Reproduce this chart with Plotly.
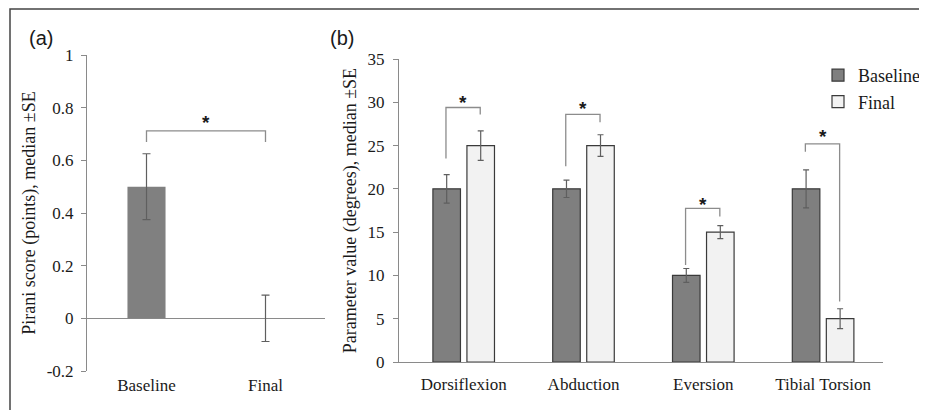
import plotly.graph_objects as go

# ---------------- data ----------------
pirani_categories = ["Baseline", "Final"]
pirani_median = [0.5, 0.0]
pirani_se = [0.125, 0.088]
pirani_bracket = [0.67, 0.712, 0.67]   # left bottom, top, right bottom
pirani_star_y = 0.76

y1_ticks = [-0.2, 0, 0.2, 0.4, 0.6, 0.8, 1]
y1_ticktext = ["-0.2", "0", "0.2", "0.4", "0.6", "0.8", "1"]

params = ["Dorsiflexion", "Abduction", "Eversion", "Tibial Torsion"]
baseline_median = [20, 20, 10, 20]
baseline_se = [1.65, 1.0, 0.8, 2.2]
final_median = [25, 25, 15, 5]
final_se = [1.7, 1.25, 0.75, 1.15]

bracket_left_bottom = [23.5, 22.6, 11.2, 24.3]
bracket_top = [29.4, 28.6, 17.75, 25.2]
bracket_right_bottom = [28.6, 27.7, 16.8, 7.0]
star_y = [30.45, 29.7, 18.7, 26.5]

y2_ticks = [0, 5, 10, 15, 20, 25, 30, 35]

# ---------------- styles ----------------
# the page body keeps its default 8px margin, so the figure is drawn 8px in
OFF = 8
W, H = 927 - OFF, 410 - OFF
SERIF = "Liberation Serif"
SANS = "Liberation Sans"
DARK = "#7f7f7f"
LIGHT = "#f2f2f2"
OUTLINE = "#3a3a3a"
ERR = "#5f5f5f"
AXIS = "#8a8a8a"
BRACKET = "#8c8c8c"
TXT = "#1a1a1a"


def px(x):
    return (x - OFF) / W


def py(y):
    return 1 - (y - OFF) / H


fig = go.Figure()

# Panel (a)
fig.add_trace(go.Bar(
    x=pirani_categories, y=pirani_median,
    width=0.32,
    marker=dict(color="#808080", line=dict(width=0)),
    error_y=dict(type="data", array=pirani_se, color=ERR, thickness=1.2, width=4),
    showlegend=False, xaxis="x", yaxis="y",
))

# Panel (b)
BW = 0.23
HALF = 0.142
fig.add_trace(go.Bar(
    name="Baseline", x=params, y=baseline_median,
    width=BW, offset=-HALF - BW / 2,
    marker=dict(color=DARK, line=dict(color=OUTLINE, width=1.2)),
    error_y=dict(type="data", array=baseline_se, color=ERR, thickness=1.2, width=3),
    xaxis="x2", yaxis="y2",
))
fig.add_trace(go.Bar(
    name="Final", x=params, y=final_median,
    width=BW, offset=HALF - BW / 2,
    marker=dict(color=LIGHT, line=dict(color=OUTLINE, width=1.2)),
    error_y=dict(type="data", array=final_se, color=ERR, thickness=1.2, width=3),
    xaxis="x2", yaxis="y2",
))

shapes = []
annotations = []

# outer frame
shapes.append(dict(type="rect", xref="paper", yref="paper",
                   x0=px(10), x1=1.02, y0=-0.02, y1=py(9),
                   line=dict(color="#444444", width=1.5)))

# bracket (a)
lb, tp, rb = pirani_bracket
shapes.append(dict(type="path", xref="x", yref="y",
                   path=f"M 0,{lb} L 0,{tp} L 1,{tp} L 1,{rb}",
                   line=dict(color=BRACKET, width=1.3)))
annotations.append(dict(x=0.5, y=pirani_star_y, xref="x", yref="y", text="<b>*</b>",
                        showarrow=False, yshift=-4,
                        font=dict(family=SANS, size=19, color=TXT)))

# brackets (b)
for i in range(len(params)):
    xl = i - 0.148
    xr = i + 0.138
    shapes.append(dict(type="path", xref="x2", yref="y2",
                       path=(f"M {xl},{bracket_left_bottom[i]} L {xl},{bracket_top[i]} "
                             f"L {xr},{bracket_top[i]} L {xr},{bracket_right_bottom[i]}"),
                       line=dict(color=BRACKET, width=1.3)))
    annotations.append(dict(x=(xl + xr) / 2, y=star_y[i], xref="x2", yref="y2",
                            text="<b>*</b>", showarrow=False, yshift=-4,
                            font=dict(family=SANS, size=19, color=TXT)))

# panel labels
annotations.append(dict(x=px(27), y=py(38), xref="paper", yref="paper", text="(a)",
                        showarrow=False, xanchor="left", yanchor="middle",
                        font=dict(family=SANS, size=20, color=TXT)))
annotations.append(dict(x=px(328), y=py(38), xref="paper", yref="paper", text="(b)",
                        showarrow=False, xanchor="left", yanchor="middle",
                        font=dict(family=SANS, size=20, color=TXT)))

fig.update_layout(
    width=W, height=H,
    margin=dict(l=0, r=0, t=0, b=0, autoexpand=False),
    paper_bgcolor="white", plot_bgcolor="white",
    barmode="group",
    font=dict(family=SERIF, size=17, color=TXT),
    xaxis=dict(domain=[px(87), px(325)], range=[-0.5, 1.5],
               showline=False, ticks="", showgrid=False, zeroline=False,
               tickfont=dict(family=SERIF, size=17, color=TXT),
               ticklabelstandoff=2, anchor="y", fixedrange=True, automargin=False),
    yaxis=dict(domain=[py(371), py(55)], range=[-0.2, 1.0],
               tickvals=y1_ticks, ticktext=y1_ticktext,
               showline=True, linecolor=AXIS, linewidth=1,
               ticks="outside", ticklen=5, tickcolor=AXIS, tickwidth=1,
               showgrid=False, zeroline=True, zerolinecolor=AXIS, zerolinewidth=1,
               tickfont=dict(family=SERIF, size=17, color=TXT),
               ticklabelstandoff=4,
               title=dict(text="Pirani score (points), median ±SE",
                          font=dict(family=SERIF, size=18, color=TXT), standoff=6),
               anchor="x", fixedrange=True, automargin=False),
    xaxis2=dict(domain=[px(399), px(883)], range=[-0.54, 3.5],
                showline=True, linecolor=AXIS, linewidth=1,
                ticks="", showgrid=False, zeroline=False,
                tickfont=dict(family=SERIF, size=17, color=TXT),
                ticklabelstandoff=7, anchor="y2", fixedrange=True, automargin=False),
    yaxis2=dict(domain=[py(362), py(59)], range=[0, 35],
                tickvals=y2_ticks,
                showline=True, linecolor=AXIS, linewidth=1,
                ticks="outside", ticklen=5, tickcolor=AXIS, tickwidth=1,
                showgrid=False, zeroline=False,
                tickfont=dict(family=SERIF, size=17, color=TXT),
                ticklabelstandoff=5,
                title=dict(text="Parameter value (degrees), median ±SE",
                           font=dict(family=SERIF, size=18, color=TXT), standoff=6),
                anchor="x2", fixedrange=True, automargin=False),
    legend=dict(x=px(818), y=py(57), xanchor="left", yanchor="top",
                bgcolor="rgba(0,0,0,0)", borderwidth=0,
                font=dict(family=SERIF, size=18, color=TXT)),
    shapes=shapes,
    annotations=annotations,
)

fig.write_html("out.html")
